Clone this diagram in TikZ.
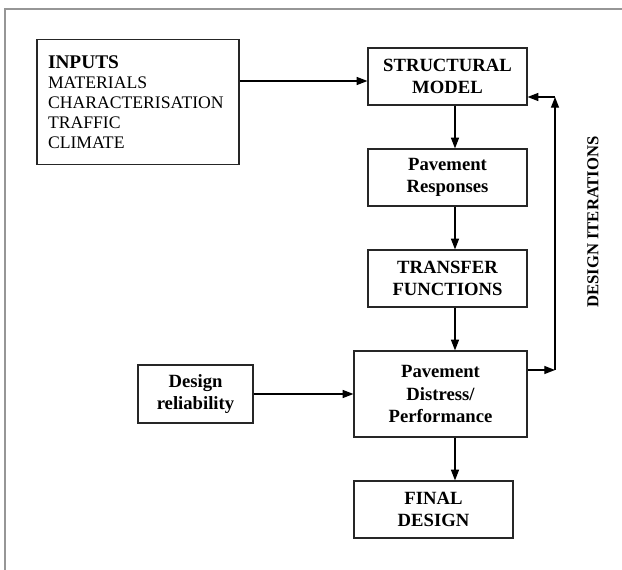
\documentclass[tikz,border=0pt]{standalone}
\usepackage{fontspec}
\setmainfont{Liberation Serif}
\usetikzlibrary{arrows.meta}

\tikzset{
  stagebox/.style={draw=black!85, line width=0.9pt, align=center, inner sep=2pt,
    font=\fontsize{14}{17}\selectfont\bfseries},
  flow/.style={line width=0.9pt, -{Triangle[length=8pt,width=6pt]}}
}

\begin{document}
\begin{tikzpicture}[x=0.75pt,y=0.75pt,yscale=-1,xscale=1]
    \useasboundingbox (0,0) rectangle (622,570);
    %Frame: top and left rule
    \draw [color={rgb, 255:red, 150; green, 150; blue, 150}, line width=1.7pt] (5,570) -- (5,9) -- (622,9);

    %Shape: Rectangle [id:inputs]
    \node [draw=black!85, line width=0.9pt, minimum width=151.5pt, minimum height=93.75pt,
      text width=135pt, align=left, inner xsep=8.25pt, font=\fontsize{13.25}{15}\selectfont] (inputs) at (138,102)
      {{\fontsize{14.5}{15}\selectfont\bfseries INPUTS}\\MATERIALS\\CHARACTERISATION\\TRAFFIC\\CLIMATE};
    %Shape: Rectangle [id:struct]
    \node [stagebox, minimum width=119.25pt, minimum height=42.75pt] (struct) at (447.5,76.5) {STRUCTURAL\\MODEL};
    %Shape: Rectangle [id:resp]
    \node [stagebox, minimum width=119.25pt, minimum height=42.75pt] (resp) at (447.5,177.5) {Pavement\\Responses};
    %Shape: Rectangle [id:transfer]
    \node [stagebox, minimum width=119.25pt, minimum height=42.75pt] (transfer) at (447.5,278.5) {TRANSFER\\FUNCTIONS};
    %Shape: Rectangle [id:distress]
    \node [stagebox, minimum width=129.75pt, minimum height=64.5pt] (distress) at (440.5,394) {Pavement\\Distress/\\Performance};
    %Shape: Rectangle [id:reliab]
    \node [stagebox, minimum width=86.25pt, minimum height=43.5pt] (reliab) at (195.5,394) {Design\\reliability};
    %Shape: Rectangle [id:final]
    \node [stagebox, minimum width=119.25pt, minimum height=42.75pt] (final) at (433.5,509.5) {FINAL\\DESIGN};

    %Guide coordinates
    \coordinate (axis) at (455,0);
    \coordinate (inrow) at (0,81);
    \coordinate (loopbot) at (555,370);
    \coordinate (looptop) at (555,97);

    %Straight Lines [id:flow arrows]
    \draw [flow] (inputs.east |- inrow) -- (struct.west |- inrow);
    \draw [flow] (struct.south -| axis) -- (resp.north -| axis);
    \draw [flow] (resp.south -| axis) -- (transfer.north -| axis);
    \draw [flow] (transfer.south -| axis) -- (distress.north -| axis);
    \draw [flow] (distress.south -| axis) -- (final.north -| axis);
    \draw [flow] (reliab.east) -- (distress.west);
    %Straight Lines [id:iteration loop]
    \draw [flow] (distress.east |- loopbot) -- (loopbot);
    \draw [flow] (loopbot) -- (looptop);
    \draw [flow] (looptop) -- (struct.east |- looptop);

    % Text Node
    \node [rotate=90, font=\fontsize{12.5}{15}\selectfont\bfseries] (iterlabel) at (593,222) {DESIGN ITERATIONS};
\end{tikzpicture}
\end{document}
